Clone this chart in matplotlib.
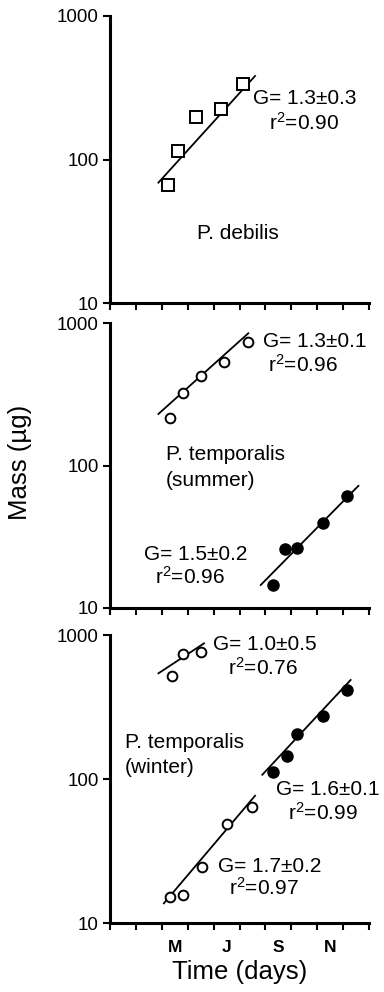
import matplotlib
matplotlib.use("Agg")
import matplotlib.pyplot as plt

plt.rcParams["font.family"] = ["Liberation Sans", "DejaVu Sans"]
plt.rcParams["mathtext.fontset"] = "custom"
plt.rcParams["mathtext.rm"] = "Liberation Sans"
plt.rcParams["mathtext.it"] = "Liberation Sans"

# x in months (0 = start of March); y in µg
month_labels = ["M", "J", "S", "N"]
month_pos = [2.5, 4.5, 6.5, 8.5]

# P. debilis
deb_x = [2.25, 2.61, 3.32, 4.27, 5.15]
deb_y = [66, 115, 199, 225, 336]
deb_fit_x = [1.87, 5.60]
deb_fit_y = [69, 382]

# P. temporalis summer
sum_open_x = [2.32, 2.81, 3.51, 4.40, 5.34]
sum_open_y = [214, 324, 425, 535, 739]
sum_open_fit_x = [1.87, 5.34]
sum_open_fit_y = [230, 847]
sum_fill_x = [6.31, 6.76, 7.21, 8.21, 9.16]
sum_fill_y = [14.5, 25.8, 26.2, 39.3, 61.4]
sum_fill_fit_x = [5.82, 9.59]
sum_fill_fit_y = [14.5, 72]

# P. temporalis winter
win_up_x = [2.38, 2.83, 3.51]
win_up_y = [521, 738, 758]
win_up_fit_x = [1.87, 3.63]
win_up_fit_y = [542, 875]
win_low_x = [2.32, 2.81, 3.54, 4.51, 5.47]
win_low_y = [15.2, 15.6, 24.4, 48.7, 63.6]
win_low_fit_x = [2.08, 5.60]
win_low_fit_y = [13.7, 76.5]
win_fill_x = [6.31, 6.82, 7.21, 8.24, 9.16]
win_fill_y = [112, 145, 205, 275, 415]
win_fill_fit_x = [5.88, 9.29]
win_fill_fit_y = [107, 487]

W, H = 384, 992
fig = plt.figure(figsize=(W / 100, H / 100), dpi=100)

panels_px = [(16, 303), (323, 608), (635, 923)]
axes = []
for top, bot in panels_px:
    ax = fig.add_axes([110 / W, 1 - bot / H, 259 / W, (bot - top) / H])
    ax.set_yscale("log")
    ax.set_ylim(10, 1000)
    ax.set_xlim(0, 10)
    ax.set_yticks([10, 100, 1000])
    ax.set_yticklabels(["10", "100", "1000"], fontsize=13.5)
    ax.yaxis.set_minor_locator(matplotlib.ticker.NullLocator())
    ax.set_xticks(range(11))
    ax.set_xticklabels([])
    ax.tick_params(axis="both", which="major", direction="out", length=5, width=1.5, pad=3)
    for s in ["top", "right"]:
        ax.spines[s].set_visible(False)
    for s in ["left", "bottom"]:
        ax.spines[s].set_linewidth(2.2)
    axes.append(ax)

open_sq = dict(marker="s", ms=8, mfc="white", mec="black", mew=1.4, ls="none", zorder=3)
open_c = dict(marker="o", ms=7, mfc="white", mec="black", mew=1.4, ls="none", zorder=3)
fill_c = dict(marker="o", ms=8, mfc="black", mec="black", ls="none", zorder=3)
fit = dict(color="black", lw=1.3, zorder=2)
fs = 15

ax = axes[0]
ax.plot(deb_fit_x, deb_fit_y, **fit)
ax.plot(deb_x, deb_y, **open_sq)
ax.text(5.52, 268, "G= 1.3±0.3", fontsize=fs, va="center")
ax.text(6.14, 180, "r$^{2}$=0.90", fontsize=fs, va="center")
ax.text(4.94, 30.7, "P. debilis", fontsize=fs, va="center", ha="center")

ax = axes[1]
ax.plot(sum_open_fit_x, sum_open_fit_y, **fit)
ax.plot(sum_open_x, sum_open_y, **open_c)
ax.plot(sum_fill_fit_x, sum_fill_fit_y, **fit)
ax.plot(sum_fill_x, sum_fill_y, **fill_c)
ax.text(5.91, 739, "G= 1.3±0.1", fontsize=fs, va="center")
ax.text(6.10, 507, "r$^{2}$=0.96", fontsize=fs, va="center")
ax.text(2.16, 118.6, "P. temporalis", fontsize=fs, va="center")
ax.text(2.16, 79, "(summer)", fontsize=fs, va="center")
ax.text(1.31, 23.6, "G= 1.5±0.2", fontsize=fs, va="center")
ax.text(1.74, 16.5, "r$^{2}$=0.96", fontsize=fs, va="center")
ax.set_ylabel("Mass (µg)", fontsize=18.5)
ax.yaxis.set_label_coords(-0.30, 0.51)

ax = axes[2]
ax.plot(win_up_fit_x, win_up_fit_y, **fit)
ax.plot(win_up_x, win_up_y, **open_c)
ax.plot(win_low_fit_x, win_low_fit_y, **fit)
ax.plot(win_low_x, win_low_y, **open_c)
ax.plot(win_fill_fit_x, win_fill_fit_y, **fit)
ax.plot(win_fill_x, win_fill_y, **fill_c)
ax.text(3.98, 853, "G= 1.0±0.5", fontsize=fs, va="center")
ax.text(4.56, 590, "r$^{2}$=0.76", fontsize=fs, va="center")
ax.text(0.58, 178, "P. temporalis", fontsize=fs, va="center")
ax.text(0.58, 121, "(winter)", fontsize=fs, va="center")
ax.text(6.41, 84, "G= 1.6±0.1", fontsize=fs, va="center")
ax.text(6.87, 58, "r$^{2}$=0.99", fontsize=fs, va="center")
ax.text(4.17, 24.5, "G= 1.7±0.2", fontsize=fs, va="center")
ax.text(4.59, 17.5, "r$^{2}$=0.97", fontsize=fs, va="center")
ax.set_xticks(month_pos, month_labels, minor=True, fontsize=12.5, fontweight="bold")
ax.tick_params(axis="x", which="minor", length=0, pad=12)
ax.set_xlabel("Time (days)", fontsize=18.5, labelpad=4)

fig.savefig("out.png", dpi=100)
